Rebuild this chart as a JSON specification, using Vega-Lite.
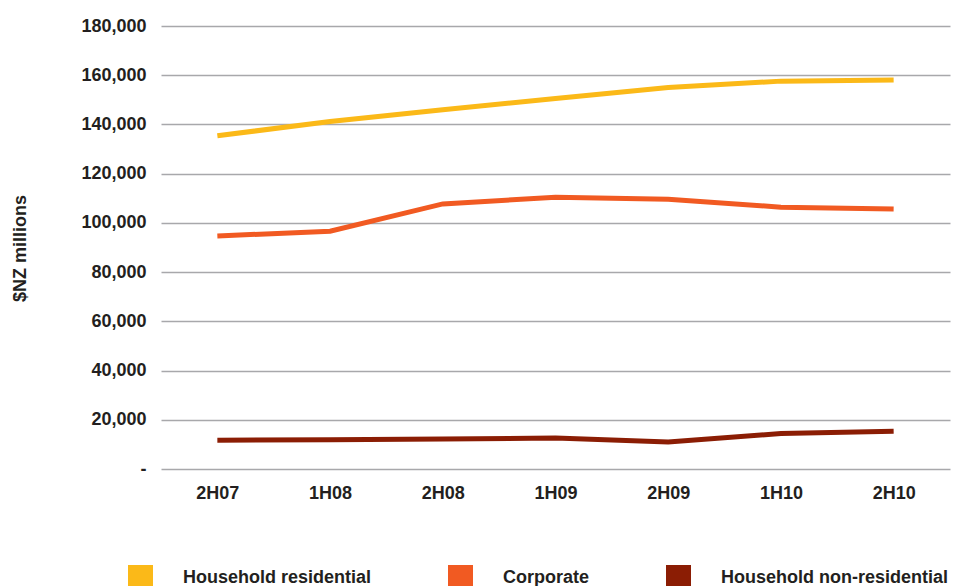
{
  "$schema": "https://vega.github.io/schema/vega-lite/v6.json",
  "width": 789,
  "height": 443,
  "autosize": {"type": "none"},
  "padding": {"left": 161, "top": 26, "right": 5, "bottom": 117},
  "background": "white",
  "config": {
    "view": {"stroke": null},
    "font": "Liberation Sans",
    "axis": {"labelFont": "Liberation Sans", "labelFontWeight": "bold", "labelFontSize": 18, "labelColor": "#231f20", "titleFont": "Liberation Sans", "titleFontWeight": "bold", "titleFontSize": 18, "titleColor": "#231f20"},
    "legend": {"labelFont": "Liberation Sans", "labelFontWeight": "bold", "labelFontSize": 18, "labelColor": "#231f20"}
  },
  "data": {
    "values": [
      {"period": "2H07", "series": "Household residential", "value": 135400},
      {"period": "1H08", "series": "Household residential", "value": 141200},
      {"period": "2H08", "series": "Household residential", "value": 146000},
      {"period": "1H09", "series": "Household residential", "value": 150500},
      {"period": "2H09", "series": "Household residential", "value": 155000},
      {"period": "1H10", "series": "Household residential", "value": 157600},
      {"period": "2H10", "series": "Household residential", "value": 158100},
      {"period": "2H07", "series": "Corporate", "value": 94700},
      {"period": "1H08", "series": "Corporate", "value": 96600},
      {"period": "2H08", "series": "Corporate", "value": 107700},
      {"period": "1H09", "series": "Corporate", "value": 110400},
      {"period": "2H09", "series": "Corporate", "value": 109600},
      {"period": "1H10", "series": "Corporate", "value": 106400},
      {"period": "2H10", "series": "Corporate", "value": 105600},
      {"period": "2H07", "series": "Household non-residential", "value": 11700},
      {"period": "1H08", "series": "Household non-residential", "value": 11900},
      {"period": "2H08", "series": "Household non-residential", "value": 12200},
      {"period": "1H09", "series": "Household non-residential", "value": 12600},
      {"period": "2H09", "series": "Household non-residential", "value": 11000},
      {"period": "1H10", "series": "Household non-residential", "value": 14400},
      {"period": "2H10", "series": "Household non-residential", "value": 15300}
    ]
  },
  "mark": {"type": "line", "strokeWidth": 5, "strokeCap": "butt", "strokeJoin": "miter"},
  "encoding": {
    "x": {
      "field": "period",
      "type": "ordinal",
      "sort": ["2H07", "1H08", "2H08", "1H09", "2H09", "1H10", "2H10"],
      "scale": {"type": "point", "paddingOuter": 0.445},
      "axis": {"title": null, "labelAngle": 0, "domain": false, "ticks": false, "tickSize": 0, "labelPadding": 15, "grid": false}
    },
    "y": {
      "field": "value",
      "type": "quantitative",
      "scale": {"domain": [0, 180000], "nice": false},
      "axis": {
        "title": "$NZ millions",
        "values": [0, 20000, 40000, 60000, 80000, 100000, 120000, 140000, 160000, 180000],
        "labelExpr": "datum.value === 0 ? '-' : format(datum.value, ',')",
        "domain": false,
        "ticks": false,
        "tickSize": 0,
        "labelPadding": 15,
        "grid": true,
        "gridColor": "#a8a8ab",
        "gridWidth": 1.6,
        "gridOpacity": 1,
        "titleX": -136,
        "titleY": 222,
        "titleBaseline": "alphabetic",
        "titleAngle": -90
      }
    },
    "color": {
      "field": "series",
      "type": "nominal",
      "scale": {
        "domain": ["Household residential", "Corporate", "Household non-residential"],
        "range": ["#fbb918", "#f15a22", "#8b1d04"]
      },
      "legend": {
        "title": null,
        "orient": "none",
        "direction": "horizontal",
        "legendX": -33,
        "legendY": 539,
        "symbolType": "square",
        "symbolSize": 625,
        "symbolStrokeWidth": 0,
        "labelOffset": 30,
        "columnPadding": 76,
        "labelLimit": 400,
        "encode": {
          "symbols": {
            "update": {
              "fill": {"scale": "color", "field": "value"},
              "stroke": {"value": "transparent"},
              "opacity": {"value": 1}
            }
          }
        }
      }
    }
  }
}
